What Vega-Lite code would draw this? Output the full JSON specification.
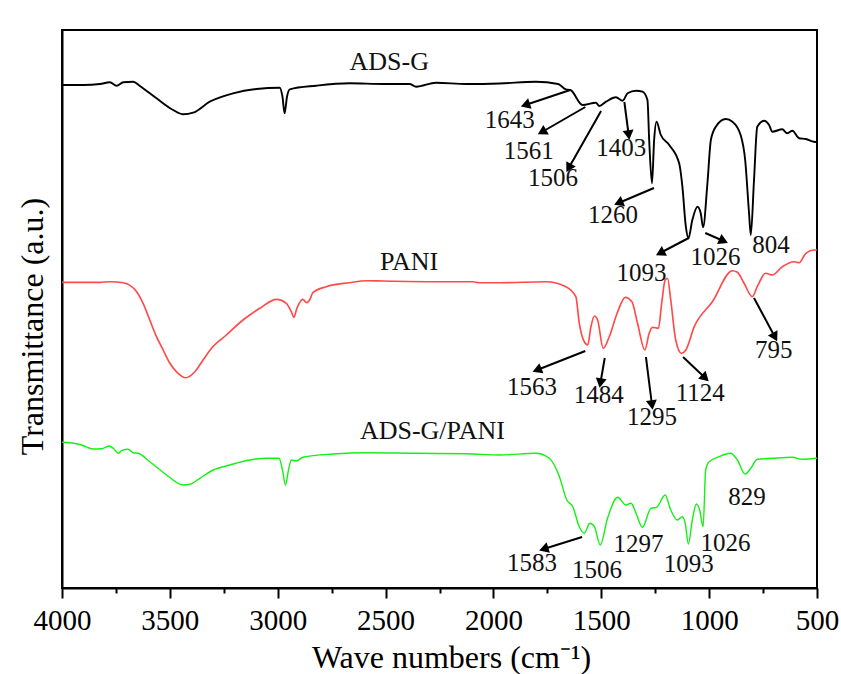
{
  "$schema": "https://vega.github.io/schema/vega-lite/v6.json",
  "width": 755,
  "height": 558,
  "autosize": "none",
  "padding": {"left": 62, "top": 30, "right": 24, "bottom": 86},
  "background": "#ffffff",
  "config": {
    "view": {"stroke": "#000000", "strokeWidth": 2},
    "font": "Liberation Serif"
  },
  "datasets": {
    "spectra": [
      {"s":"ADS-G","wn":4000,"T":503},{"s":"ADS-G","wn":3901,"T":503},{"s":"ADS-G","wn":3824,"T":504},{"s":"ADS-G","wn":3778,"T":505.7},{"s":"ADS-G","wn":3747,"T":502.3},{"s":"ADS-G","wn":3716,"T":505.7},{"s":"ADS-G","wn":3670,"T":506.3},{"s":"ADS-G","wn":3639,"T":502},{"s":"ADS-G","wn":3562,"T":489.7},{"s":"ADS-G","wn":3485,"T":478},{"s":"ADS-G","wn":3438,"T":473.7},{"s":"ADS-G","wn":3392,"T":475.3},{"s":"ADS-G","wn":3315,"T":486.3},{"s":"ADS-G","wn":3207,"T":494.7},{"s":"ADS-G","wn":3099,"T":499},{"s":"ADS-G","wn":2991,"T":500.3},{"s":"ADS-G","wn":2978,"T":491.3},{"s":"ADS-G","wn":2968,"T":474.7},{"s":"ADS-G","wn":2957,"T":491.3},{"s":"ADS-G","wn":2944,"T":498.7},{"s":"ADS-G","wn":2821,"T":502.3},{"s":"ADS-G","wn":2667,"T":504.7},{"s":"ADS-G","wn":2512,"T":504},{"s":"ADS-G","wn":2389,"T":504},{"s":"ADS-G","wn":2358,"T":501.3},{"s":"ADS-G","wn":2266,"T":505.3},{"s":"ADS-G","wn":2126,"T":504},{"s":"ADS-G","wn":1972,"T":504.5},{"s":"ADS-G","wn":1804,"T":506.3},{"s":"ADS-G","wn":1700,"T":504},{"s":"ADS-G","wn":1664,"T":498.7},{"s":"ADS-G","wn":1643,"T":498},{"s":"ADS-G","wn":1587,"T":483},{"s":"ADS-G","wn":1525,"T":485.3},{"s":"ADS-G","wn":1509,"T":482},{"s":"ADS-G","wn":1478,"T":486.3},{"s":"ADS-G","wn":1432,"T":490.7},{"s":"ADS-G","wn":1401,"T":487.3},{"s":"ADS-G","wn":1378,"T":494.7},{"s":"ADS-G","wn":1339,"T":497.3},{"s":"ADS-G","wn":1309,"T":496.3},{"s":"ADS-G","wn":1286,"T":488},{"s":"ADS-G","wn":1278,"T":448},{"s":"ADS-G","wn":1265,"T":404.7},{"s":"ADS-G","wn":1255,"T":448},{"s":"ADS-G","wn":1244,"T":466.3},{"s":"ADS-G","wn":1224,"T":453},{"s":"ADS-G","wn":1185,"T":443},{"s":"ADS-G","wn":1139,"T":424.7},{"s":"ADS-G","wn":1124,"T":401.3},{"s":"ADS-G","wn":1108,"T":361.3},{"s":"ADS-G","wn":1096,"T":349.7},{"s":"ADS-G","wn":1078,"T":368},{"s":"ADS-G","wn":1054,"T":381.3},{"s":"ADS-G","wn":1039,"T":374.7},{"s":"ADS-G","wn":1028,"T":360.7},{"s":"ADS-G","wn":1008,"T":404.7},{"s":"ADS-G","wn":992,"T":448},{"s":"ADS-G","wn":969,"T":461.3},{"s":"ADS-G","wn":923,"T":469},{"s":"ADS-G","wn":892,"T":466.3},{"s":"ADS-G","wn":854,"T":453},{"s":"ADS-G","wn":833,"T":428},{"s":"ADS-G","wn":815,"T":374.7},{"s":"ADS-G","wn":807,"T":353},{"s":"ADS-G","wn":792,"T":408},{"s":"ADS-G","wn":777,"T":461.3},{"s":"ADS-G","wn":745,"T":467.3},{"s":"ADS-G","wn":722,"T":463},{"s":"ADS-G","wn":707,"T":456.3},{"s":"ADS-G","wn":661,"T":458.7},{"s":"ADS-G","wn":638,"T":454.7},{"s":"ADS-G","wn":614,"T":457.3},{"s":"ADS-G","wn":583,"T":449.7},{"s":"ADS-G","wn":552,"T":449},{"s":"ADS-G","wn":514,"T":446.3},{"s":"ADS-G","wn":500,"T":446},
      {"s":"PANI","wn":4000,"T":305.7},{"s":"PANI","wn":3824,"T":305.7},{"s":"PANI","wn":3778,"T":306.3},{"s":"PANI","wn":3716,"T":305.3},{"s":"PANI","wn":3654,"T":296.3},{"s":"PANI","wn":3624,"T":284.7},{"s":"PANI","wn":3593,"T":268},{"s":"PANI","wn":3562,"T":251.3},{"s":"PANI","wn":3531,"T":238},{"s":"PANI","wn":3500,"T":224.7},{"s":"PANI","wn":3462,"T":214.7},{"s":"PANI","wn":3426,"T":210.3},{"s":"PANI","wn":3384,"T":216.3},{"s":"PANI","wn":3346,"T":228},{"s":"PANI","wn":3307,"T":239.7},{"s":"PANI","wn":3238,"T":253},{"s":"PANI","wn":3161,"T":268},{"s":"PANI","wn":3083,"T":279.7},{"s":"PANI","wn":3006,"T":288.7},{"s":"PANI","wn":2960,"T":284.7},{"s":"PANI","wn":2937,"T":276.3},{"s":"PANI","wn":2925,"T":270.7},{"s":"PANI","wn":2911,"T":279.7},{"s":"PANI","wn":2883,"T":288.7},{"s":"PANI","wn":2867,"T":285.3},{"s":"PANI","wn":2852,"T":288},{"s":"PANI","wn":2837,"T":295.3},{"s":"PANI","wn":2775,"T":301.3},{"s":"PANI","wn":2667,"T":305.3},{"s":"PANI","wn":2589,"T":307.3},{"s":"PANI","wn":2512,"T":307},{"s":"PANI","wn":2281,"T":306.3},{"s":"PANI","wn":2096,"T":306.3},{"s":"PANI","wn":2065,"T":305.3},{"s":"PANI","wn":1972,"T":305.3},{"s":"PANI","wn":1756,"T":306.3},{"s":"PANI","wn":1664,"T":301.3},{"s":"PANI","wn":1618,"T":291.3},{"s":"PANI","wn":1602,"T":264.7},{"s":"PANI","wn":1579,"T":246.3},{"s":"PANI","wn":1563,"T":243},{"s":"PANI","wn":1548,"T":261.3},{"s":"PANI","wn":1532,"T":272},{"s":"PANI","wn":1517,"T":268},{"s":"PANI","wn":1491,"T":239.7},{"s":"PANI","wn":1463,"T":251.3},{"s":"PANI","wn":1424,"T":276.3},{"s":"PANI","wn":1389,"T":290.7},{"s":"PANI","wn":1358,"T":286.3},{"s":"PANI","wn":1332,"T":264.7},{"s":"PANI","wn":1298,"T":238},{"s":"PANI","wn":1278,"T":254.7},{"s":"PANI","wn":1263,"T":260.7},{"s":"PANI","wn":1235,"T":259.7},{"s":"PANI","wn":1220,"T":284.7},{"s":"PANI","wn":1204,"T":308},{"s":"PANI","wn":1193,"T":309.7},{"s":"PANI","wn":1178,"T":288},{"s":"PANI","wn":1155,"T":248},{"s":"PANI","wn":1128,"T":234.7},{"s":"PANI","wn":1108,"T":238},{"s":"PANI","wn":1069,"T":261.3},{"s":"PANI","wn":985,"T":286.3},{"s":"PANI","wn":892,"T":317.3},{"s":"PANI","wn":869,"T":315.7},{"s":"PANI","wn":838,"T":304.7},{"s":"PANI","wn":800,"T":291.3},{"s":"PANI","wn":777,"T":301.3},{"s":"PANI","wn":738,"T":314.7},{"s":"PANI","wn":707,"T":313},{"s":"PANI","wn":661,"T":321.3},{"s":"PANI","wn":606,"T":326.3},{"s":"PANI","wn":583,"T":325.3},{"s":"PANI","wn":552,"T":334.7},{"s":"PANI","wn":514,"T":338},{"s":"PANI","wn":500,"T":338},
      {"s":"ADS-G/PANI","wn":4000,"T":145.7},{"s":"ADS-G/PANI","wn":3963,"T":145.3},{"s":"ADS-G/PANI","wn":3909,"T":143},{"s":"ADS-G/PANI","wn":3855,"T":139},{"s":"ADS-G/PANI","wn":3816,"T":139.3},{"s":"ADS-G/PANI","wn":3781,"T":142},{"s":"ADS-G/PANI","wn":3762,"T":139.7},{"s":"ADS-G/PANI","wn":3739,"T":134.7},{"s":"ADS-G/PANI","wn":3724,"T":137.3},{"s":"ADS-G/PANI","wn":3693,"T":138.7},{"s":"ADS-G/PANI","wn":3670,"T":135.3},{"s":"ADS-G/PANI","wn":3647,"T":134.7},{"s":"ADS-G/PANI","wn":3593,"T":126.3},{"s":"ADS-G/PANI","wn":3515,"T":113},{"s":"ADS-G/PANI","wn":3438,"T":103},{"s":"ADS-G/PANI","wn":3407,"T":103.7},{"s":"ADS-G/PANI","wn":3361,"T":109.7},{"s":"ADS-G/PANI","wn":3299,"T":118},{"s":"ADS-G/PANI","wn":3222,"T":123},{"s":"ADS-G/PANI","wn":3130,"T":128},{"s":"ADS-G/PANI","wn":3052,"T":129.7},{"s":"ADS-G/PANI","wn":2994,"T":129.7},{"s":"ADS-G/PANI","wn":2978,"T":118},{"s":"ADS-G/PANI","wn":2964,"T":103},{"s":"ADS-G/PANI","wn":2950,"T":118},{"s":"ADS-G/PANI","wn":2937,"T":128},{"s":"ADS-G/PANI","wn":2914,"T":127},{"s":"ADS-G/PANI","wn":2883,"T":130.7},{"s":"ADS-G/PANI","wn":2744,"T":134},{"s":"ADS-G/PANI","wn":2589,"T":135.3},{"s":"ADS-G/PANI","wn":2358,"T":134.7},{"s":"ADS-G/PANI","wn":2126,"T":134.3},{"s":"ADS-G/PANI","wn":1972,"T":133},{"s":"ADS-G/PANI","wn":1803,"T":134.7},{"s":"ADS-G/PANI","wn":1741,"T":129.7},{"s":"ADS-G/PANI","wn":1694,"T":111.3},{"s":"ADS-G/PANI","wn":1660,"T":88},{"s":"ADS-G/PANI","wn":1632,"T":81.3},{"s":"ADS-G/PANI","wn":1602,"T":61.3},{"s":"ADS-G/PANI","wn":1579,"T":54.7},{"s":"ADS-G/PANI","wn":1553,"T":64.7},{"s":"ADS-G/PANI","wn":1532,"T":61.3},{"s":"ADS-G/PANI","wn":1505,"T":43},{"s":"ADS-G/PANI","wn":1471,"T":69.7},{"s":"ADS-G/PANI","wn":1424,"T":90.7},{"s":"ADS-G/PANI","wn":1386,"T":83},{"s":"ADS-G/PANI","wn":1362,"T":84.7},{"s":"ADS-G/PANI","wn":1339,"T":74.7},{"s":"ADS-G/PANI","wn":1309,"T":60.7},{"s":"ADS-G/PANI","wn":1270,"T":79.7},{"s":"ADS-G/PANI","wn":1244,"T":80.7},{"s":"ADS-G/PANI","wn":1204,"T":93},{"s":"ADS-G/PANI","wn":1178,"T":78},{"s":"ADS-G/PANI","wn":1147,"T":68},{"s":"ADS-G/PANI","wn":1124,"T":71.3},{"s":"ADS-G/PANI","wn":1111,"T":64.7},{"s":"ADS-G/PANI","wn":1096,"T":44},{"s":"ADS-G/PANI","wn":1078,"T":68},{"s":"ADS-G/PANI","wn":1059,"T":84},{"s":"ADS-G/PANI","wn":1044,"T":78},{"s":"ADS-G/PANI","wn":1028,"T":61.3},{"s":"ADS-G/PANI","wn":1016,"T":118},{"s":"ADS-G/PANI","wn":1000,"T":126.3},{"s":"ADS-G/PANI","wn":954,"T":131.3},{"s":"ADS-G/PANI","wn":900,"T":134.7},{"s":"ADS-G/PANI","wn":869,"T":128},{"s":"ADS-G/PANI","wn":833,"T":114},{"s":"ADS-G/PANI","wn":807,"T":119.7},{"s":"ADS-G/PANI","wn":777,"T":128.7},{"s":"ADS-G/PANI","wn":707,"T":129.7},{"s":"ADS-G/PANI","wn":614,"T":130.7},{"s":"ADS-G/PANI","wn":568,"T":128.7},{"s":"ADS-G/PANI","wn":506,"T":129.7},{"s":"ADS-G/PANI","wn":500,"T":130}
    ],
    "labels": [
      {"text":"ADS-G","wn":2483,"T":526,"kind":"name"},
      {"text":"PANI","wn":2391,"T":326,"kind":"name"},
      {"text":"ADS-G/PANI","wn":2283,"T":157,"kind":"name"},
      {"text":"1643","wn":1924,"T":468,"kind":"peak"},
      {"text":"1561","wn":1836,"T":437,"kind":"peak"},
      {"text":"1506","wn":1724,"T":410,"kind":"peak"},
      {"text":"1403","wn":1408,"T":440,"kind":"peak"},
      {"text":"1260","wn":1446,"T":373,"kind":"peak"},
      {"text":"1093","wn":1314,"T":315,"kind":"peak"},
      {"text":"1026","wn":971,"T":331,"kind":"peak"},
      {"text":"804","wn":713,"T":343,"kind":"peak"},
      {"text":"1563","wn":1821,"T":201,"kind":"peak"},
      {"text":"1484","wn":1512,"T":193,"kind":"peak"},
      {"text":"1295","wn":1265,"T":171,"kind":"peak"},
      {"text":"1124","wn":1041,"T":195,"kind":"peak"},
      {"text":"795","wn":701,"T":238,"kind":"peak"},
      {"text":"1583","wn":1821,"T":25,"kind":"peak"},
      {"text":"1506","wn":1520,"T":18,"kind":"peak"},
      {"text":"1297","wn":1327,"T":44,"kind":"peak"},
      {"text":"1093","wn":1095,"T":24,"kind":"peak"},
      {"text":"1026","wn":924,"T":45,"kind":"peak"},
      {"text":"829","wn":824,"T":91,"kind":"peak"}
    ],
    "arrows": [
      {"peak":"1643","wn":1644,"T":498,"wn2":1852,"T2":483},
      {"peak":"1561","wn":1574,"T":481,"wn2":1775,"T2":456},
      {"peak":"1506","wn":1501,"T":477,"wn2":1651,"T2":420},
      {"peak":"1403","wn":1393,"T":486,"wn2":1373,"T2":453},
      {"peak":"1260","wn":1256,"T":400,"wn2":1420,"T2":385},
      {"peak":"1093","wn":1095,"T":350,"wn2":1227,"T2":335},
      {"peak":"1026","wn":1018,"T":355,"wn2":933,"T2":347},
      {"peak":"1563","wn":1574,"T":237,"wn2":1798,"T2":218},
      {"peak":"1484","wn":1484,"T":230,"wn2":1504,"T2":205},
      {"peak":"1295","wn":1293,"T":231,"wn2":1265,"T2":183},
      {"peak":"1124","wn":1121,"T":231,"wn2":1018,"T2":210},
      {"peak":"795","wn":792,"T":290,"wn2":695,"T2":251},
      {"peak":"1583","wn":1589,"T":51,"wn2":1767,"T2":39}
    ]
  },
  "encoding": {
    "x": {
      "field": "wn", "type": "quantitative",
      "scale": {"domain": [500, 4000], "reverse": true, "nice": false, "zero": false},
      "axis": {
        "title": "Wave numbers (cm⁻¹)",
        "titleFont": "Liberation Serif", "titleFontSize": 32, "titleFontWeight": "normal", "titleColor": "#000",
        "titleX": 389, "titleY": 79, "titleBaseline": "alphabetic", "titleAnchor": null,
        "values": [500,750,1000,1250,1500,1750,2000,2250,2500,2750,3000,3250,3500,3750,4000],
        "labelExpr": "datum.value % 500 === 0 ? datum.label : ''",
        "format": "d",
        "labelFont": "Liberation Serif", "labelFontSize": 29, "labelColor": "#000",
        "labelBaseline": "alphabetic", "labelPadding": 31, "labelFlush": false, "labelOverlap": false,
        "tickSize": {"condition": {"test": "datum.value % 500 === 0", "value": 10}, "value": 5},
        "tickColor": "#000", "tickWidth": 2,
        "domainColor": "#000", "domainWidth": 2,
        "grid": false
      }
    },
    "y": {
      "field": "T", "type": "quantitative",
      "scale": {"domain": [0, 558], "nice": false, "zero": false},
      "axis": {
        "title": "Transmittance (a.u.)",
        "titleFont": "Liberation Serif", "titleFontSize": 32, "titleFontWeight": "normal", "titleColor": "#000",
        "titleX": -20, "titleY": 296, "titleBaseline": "alphabetic", "titleAngle": -90, "titleAlign": "center", "titleAnchor": null,
        "labels": false, "ticks": false, "grid": false,
        "domainColor": "#000", "domainWidth": 2
      }
    }
  },
  "layer": [
    {
      "data": {"name": "spectra"},
      "mark": {"type": "line", "interpolate": "monotone"},
      "encoding": {
        "color": {
          "field": "s", "type": "nominal",
          "scale": {"domain": ["ADS-G", "PANI", "ADS-G/PANI"], "range": ["#000000", "#ff4a4a", "#14f014"]},
          "legend": null
        },
        "strokeWidth": {
          "field": "s", "type": "nominal",
          "scale": {"domain": ["ADS-G", "PANI", "ADS-G/PANI"], "range": [1.9, 1.4, 1.7]},
          "legend": null
        }
      }
    },
    {
      "data": {"name": "arrows"},
      "mark": {"type": "rule", "color": "#000", "strokeWidth": 2},
      "encoding": {
        "x2": {"field": "wn2"},
        "y2": {"field": "T2"}
      }
    },
    {
      "data": {"name": "arrows"},
      "transform": [
        {"calculate": "atan2((datum.wn - datum.wn2) * 0.2157, datum.T2 - datum.T) * 180 / PI", "as": "ang"}
      ],
      "mark": {"type": "point", "shape": "triangle-up", "filled": true, "color": "#000", "size": 120, "opacity": 1},
      "encoding": {
        "x": {"field": "wn2", "type": "quantitative"},
        "y": {"field": "T2", "type": "quantitative"},
        "angle": {"field": "ang", "type": "quantitative", "scale": null}
      }
    },
    {
      "data": {"name": "labels"},
      "mark": {"type": "text", "font": "Liberation Serif", "align": "center", "baseline": "middle", "color": "#111"},
      "encoding": {
        "text": {"field": "text"},
        "size": {"condition": {"test": "datum.kind === 'name'", "value": 26}, "value": 25}
      }
    }
  ]
}
